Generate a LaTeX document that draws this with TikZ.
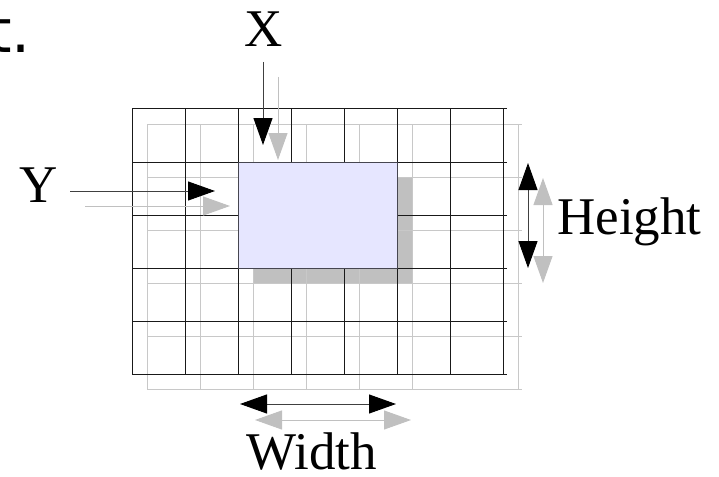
\documentclass[tikz,border=0pt]{standalone}
\usepackage{fontspec}
\setmainfont{Liberation Serif}
\newfontfamily\slidefont{DejaVu Sans}
\usetikzlibrary{arrows.meta}
\definecolor{gridink}{RGB}{25,25,25}
\definecolor{gridshade}{RGB}{200,200,200}
\definecolor{shadowgray}{RGB}{192,192,192}
\definecolor{cellblue}{RGB}{230,230,255}
\definecolor{cellline}{RGB}{70,70,80}
\tikzset{
  blackhead/.tip={Triangle[length=27pt,width=19pt,color=black]},
  grayhead/.tip={Triangle[length=27pt,width=19pt,color=shadowgray]},
  gridline/.style={draw=gridink,line width=1pt},
  shadeline/.style={draw=gridshade,line width=1pt},
  cell/.style={draw=cellline,fill=cellblue,line width=0.9pt},
  cellshadow/.style={fill=shadowgray},
  dimarrow/.style={-blackhead,line width=1pt,draw=black!75},
  dimboth/.style={blackhead-blackhead,line width=1pt,draw=black!75},
  shadearrow/.style={-grayhead,line width=1pt,draw=shadowgray},
  shadeboth/.style={grayhead-grayhead,line width=1pt,draw=shadowgray},
  dimlab/.style={font=\fontsize{53}{60}\selectfont,inner sep=0pt,anchor=base}
}
\begin{document}
\begin{tikzpicture}[x=1pt,y=-1pt]
  \useasboundingbox (0,0) rectangle (719,476);
  \node[anchor=base west,inner sep=0pt,font=\slidefont\fontsize{60}{70}\selectfont]
    (slidetext) at (-12,53) {t.};

  % shadow copy first, then the grid on top
  \fill[cellshadow] (253,177) rectangle (412,283);
  \foreach \i in {0,1,2,3,4,5,7}
    \draw[shadeline] (147+53*\i,124) -- (147+53*\i,390);
  \foreach \j in {0,...,5}
    \draw[shadeline] (147,124+53*\j) -- (522,124+53*\j);
  \foreach \i in {0,...,7}
    \draw[gridline] (132+53*\i,109) -- (132+53*\i,374);
  \foreach \j in {0,...,5}
    \draw[gridline] (132,109+53*\j) -- (507,109+53*\j);

  \node[dimlab] (xlab) at (264,47) {X};
  \node[dimlab] (ylab) at (39,202) {Y};
  \node[dimlab,anchor=base west] (hlab) at (557,234) {Height};
  \node[dimlab] (wlab) at (312,469) {Width};

  \coordinate (xtail) at (263,62);
  \coordinate (xtip) at (263,145);
  \coordinate (ytail) at (70,191);
  \coordinate (ytip) at (215,191);
  \coordinate (wleft) at (240,404);
  \coordinate (wright) at (396,404);
  \coordinate (htop) at (528,163);
  \coordinate (hbot) at (528,268);

  \draw[shadearrow] ([shift={(15,15)}]xtail) -- ([shift={(15,15)}]xtip);
  \draw[shadearrow] ([shift={(15,15)}]ytail) -- ([shift={(15,15)}]ytip);
  \draw[shadeboth] ([shift={(15,16)}]wleft) -- ([shift={(15,16)}]wright);
  \draw[shadeboth] ([shift={(15,15)}]htop) -- ([shift={(15,15)}]hbot);
  \draw[dimarrow] (xtail) -- (xtip);
  \draw[dimarrow] (ytail) -- (ytip);
  \draw[dimboth] (wleft) -- (wright);
  \draw[dimboth] (htop) -- (hbot);

  \draw[cell] (238,162) rectangle (397,268);
\end{tikzpicture}
\end{document}
